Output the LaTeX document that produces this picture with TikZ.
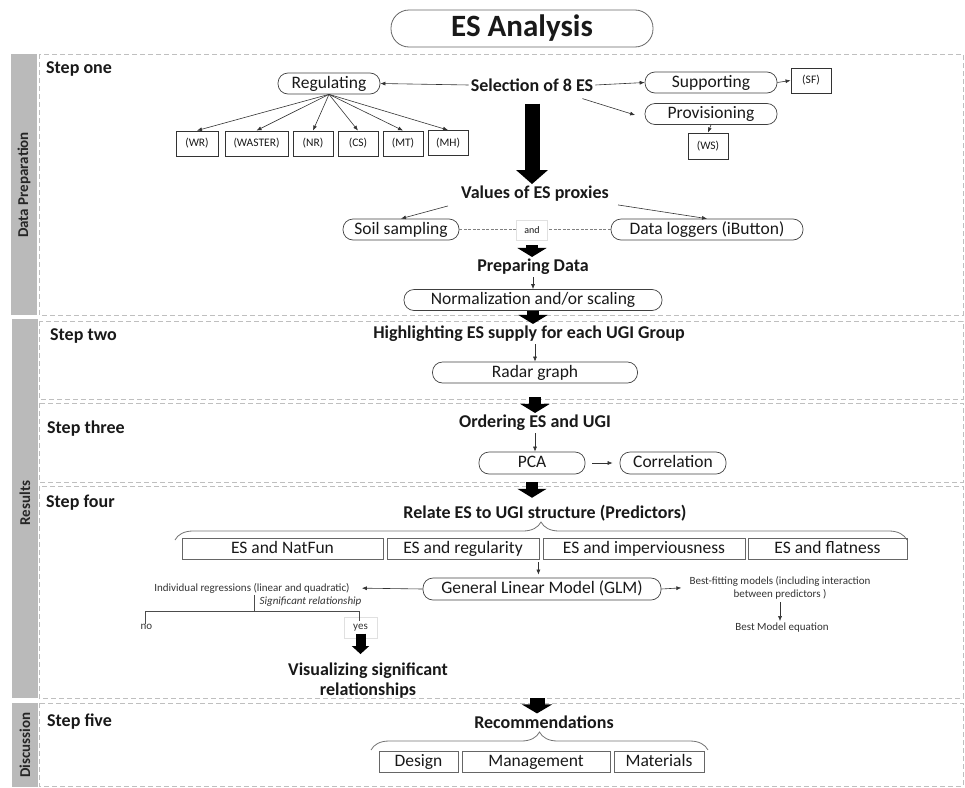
\documentclass[tikz,border=0pt]{standalone}
\usepackage{fontspec}
\setmainfont{Carlito}
\usetikzlibrary{arrows.meta,decorations.pathreplacing,calc}
\begin{document}
\begin{tikzpicture}[x=1pt,y=-1pt,
 every node/.style={inner sep=2pt, text=black!90},
 hd/.style={font=\fontsize{18}{20}\selectfont\bfseries},
 rb/.style={draw=black!75, line width=0.7pt, rounded corners=10pt, minimum height=21pt, inner sep=0pt, text height=12.5pt, text depth=3.5pt, font=\fontsize{17.5}{20}\selectfont},
 sq/.style={draw=black!80, line width=0.9pt, minimum height=25pt, inner sep=0pt, text height=8.5pt, text depth=2.5pt, font=\fontsize{11.5}{13}\selectfont},
 pb/.style={draw=black!60, line width=0.8pt, minimum height=21pt, inner sep=0pt, text height=12.5pt, text depth=3.5pt, font=\fontsize{17.5}{20}\selectfont},
 sm/.style={font=\fontsize{11}{14}\selectfont, text=black!80},
 ar/.style={draw=black!80, line width=0.6pt, -{Latex[length=5pt,width=4pt]}},
 big/.style={line width=12pt, -{Triangle[length=9pt,width=29pt]}},
 stepbox/.style={draw=black!25, dash pattern=on 5pt off 3pt, line width=1pt},
 bar/.style={fill=black!27},
 barlbl/.style={rotate=90, font=\fontsize{15}{17}\selectfont\bfseries, text=black!85},
 steplbl/.style={anchor=west, font=\fontsize{18}{20}\selectfont\bfseries},
 brc/.style={decorate, decoration={brace, amplitude=18pt}, draw=black!55, line width=0.8pt},
]
\useasboundingbox (0,0) rectangle (965,787);
% side bars
\fill[bar] (11,54) rectangle (37,315);
\fill[bar] (12,319) rectangle (38,698);
\fill[bar] (12,703) rectangle (38,787);
\node[barlbl] (lbl1) at (24,185) {Data Preparation};
\node[barlbl] (lbl2) at (25,503) {Results};
\node[barlbl] (lbl3) at (25,745) {Discussion};
% step boxes
\draw[stepbox] (39,54) rectangle (963,315);
\draw[stepbox] (39,321) rectangle (963,399);
\draw[stepbox] (39,403) rectangle (963,482);
\draw[stepbox] (39,486) rectangle (963,698);
\draw[stepbox] (39,703) rectangle (963,786);
\node[steplbl] (s1) at (44,69) {Step one};
\node[steplbl] (s2) at (48,336) {Step two};
\node[steplbl] (s3) at (45,429) {Step three};
\node[steplbl] (s4) at (44,503) {Step four};
\node[steplbl] (s5) at (45,722) {Step five};
% title
\node[draw=black!60, line width=0.8pt, rounded corners=18pt, minimum width=262pt, minimum height=37pt, font=\fontsize{31}{34}\selectfont\bfseries] (title) at (522,28.5) {ES Analysis};
% step one
\node[hd] (sel) at (532,85) {Selection of 8 ES};
\node[rb, minimum width=102pt] (reg) at (329,83.5) {Regulating};
\node[rb, minimum width=132pt] (sup) at (711,82.5) {Supporting};
\node[sq, minimum width=40pt] (sf) at (811,80.5) {(SF)};
\node[rb, minimum width=132pt] (prov) at (711,114) {Provisioning};
\node[sq, minimum width=40pt, minimum height=26pt] (ws) at (708,146) {(WS)};
\node[sq, minimum width=42pt] (wr) at (197,143.5) {(WR)};
\node[sq, minimum width=63pt] (waster) at (256.5,143.5) {(WASTER)};
\node[sq, minimum width=40pt] (nr) at (313,143.5) {(NR)};
\node[sq, minimum width=40pt] (cs) at (358,143.5) {(CS)};
\node[sq, minimum width=40pt] (mt) at (403,143.5) {(MT)};
\node[sq, minimum width=40pt] (mh) at (448,143) {(MH)};
\draw[ar] (sel.west) -- (reg.east);
\draw[ar] (sel.east) -- (sup.west);
\draw[ar] (sup.east) -- (sf.west);
\draw[ar, shorten >=10pt] ([xshift=-13pt,yshift=-5pt]sel.south east) -- ([yshift=-4pt]prov.west);
\draw[ar] (prov.south) -- (ws.north);
\foreach \n in {wr,waster,nr,cs,mt,mh} \draw[ar] (reg.south) -- (\n.north);
\node[hd] (val) at (535,194) {Values of ES proxies};
\draw[big, line width=15pt, -{Triangle[length=14pt,width=31pt]}] ([yshift=-10pt]sel.south) -- (sel.south |- val.north);
\node[rb, minimum width=116pt] (soil) at (401,229.5) {Soil sampling};
\node[rb, minimum width=192pt] (dl) at (707,229.5) {Data loggers (iButton)};
\draw[ar] ([xshift=-11pt,yshift=-2pt]val.south west) -- (soil.north);
\draw[ar] ([xshift=7pt,yshift=-1pt]val.south east) -- (dl.north);
\draw[black!50, dash pattern=on 3pt off 1.5pt, line width=0.6pt] (soil.east) -- (dl.west);
\node[draw=black!12, fill=white, minimum width=31pt, minimum height=20pt, inner sep=0pt, font=\fontsize{10}{12}\selectfont] (and) at (532,230) {and};
\node[hd] (prep) at (533,267) {Preparing Data};
\draw[big] ([yshift=-5pt]and.south) -- (and.south |- prep.north);
\node[rb, minimum width=258pt] (norm) at (533,300) {Normalization and/or scaling};
\draw[ar] (prep.south) -- (norm.north);
% step two
\node[hd] (high) at (529,334) {Highlighting ES supply for each UGI Group};
\draw[big] (norm.south) -- (norm.south |- high.north);
\node[rb, minimum width=205pt] (radar) at (535,372.5) {Radar graph};
\draw[ar] (radar.north |- high.south) -- (radar.north);
% step three
\node[hd] (ord) at (535,423) {Ordering ES and UGI};
\draw[big] ([yshift=-14pt]radar.south) -- (radar.south |- ord.north);
\node[rb, minimum width=106pt, minimum height=22pt] (pca) at (532,463) {PCA};
\node[rb, minimum width=106pt, minimum height=22pt] (corr) at (673,463) {Correlation};
\draw[ar] (ord.south) -- (ord.south |- pca.north);
\draw[ar, shorten <=7pt, shorten >=7pt] (pca.east) -- (corr.west);
% step four
\node[hd] (rel) at (545,513) {Relate ES to UGI structure (Predictors)};
\draw[big, shorten >=5pt] ([yshift=-8pt]pca.south) -- (pca.south |- rel.north);
\draw[brc] (175,540) -- (907,540);
\node[pb, minimum width=201pt] (nat) at (282.5,548.5) {ES and NatFun};
\node[pb, minimum width=152pt] (reg2) at (463,548.5) {ES and regularity};
\node[pb, minimum width=202pt] (imp) at (644,548.5) {ES and imperviousness};
\node[pb, minimum width=159pt] (flat) at (827.5,548.5) {ES and flatness};
\node[rb, minimum width=238pt, minimum height=22pt] (glm) at (542,589) {General Linear Model (GLM)};
\draw[ar, shorten <=3pt, shorten >=3pt] ([xshift=-1pt]reg2.south east) -- ([xshift=-1pt]reg2.south east |- glm.north);
\node[sm] (ind) at (252,588) {Individual regressions (linear and quadratic)};
\draw[ar, shorten >=10pt] (glm.west) -- (ind.east);
\node[sm, align=center, font=\fontsize{11}{13}\selectfont] (best) at (780,587.5) {Best-fitting models (including interaction\\between predictors )};
\draw[ar, shorten >=6pt] (glm.east) -- (best.west);
\node[sm] (bme) at (782,628) {Best Model equation};
\draw[ar, shorten <=1pt] (best.south) -- (best.south |- bme.north);
\node[sm, font=\fontsize{11}{14}\selectfont\itshape] (sig) at (310.5,602) {Significant relationship};
\node[sm] (no) at (146.5,627) {no};
\node[sm, draw=black!12, minimum width=33pt, minimum height=21pt, inner sep=0pt] (yes) at (360.5,628) {yes};
\coordinate (j) at (254,611);
\draw[black!70, line width=0.6pt] (ind.south -| j) -- (j);
\draw[black!70, line width=0.6pt] ([xshift=-1.5pt,yshift=-2pt]no.north) |- (j) -| ([xshift=-1.5pt,yshift=-4pt]yes.north);
\node[hd, align=center] (vis) at (368,681) {Visualizing significant\\relationships};
\draw[line width=10pt, -{Triangle[length=8pt,width=17pt]}, shorten >=7pt] ([yshift=5pt]yes.south) -- (yes.south |- vis.north);
% step five
\node[hd] (rec) at (544,722) {Recommendations};
\coordinate (e4) at (537,698);
\draw[big, line width=15pt, -{Triangle[length=9pt,width=30pt]}] (e4) -- (e4 |- rec.north);
\draw[brc] (371,750) -- (708,750);
\node[pb, minimum width=79pt] (des) at (418.5,762) {Design};
\node[pb, minimum width=148pt] (man) at (536,762) {Management};
\node[pb, minimum width=90pt] (mat) at (659,762) {Materials};
\end{tikzpicture}
\end{document}
